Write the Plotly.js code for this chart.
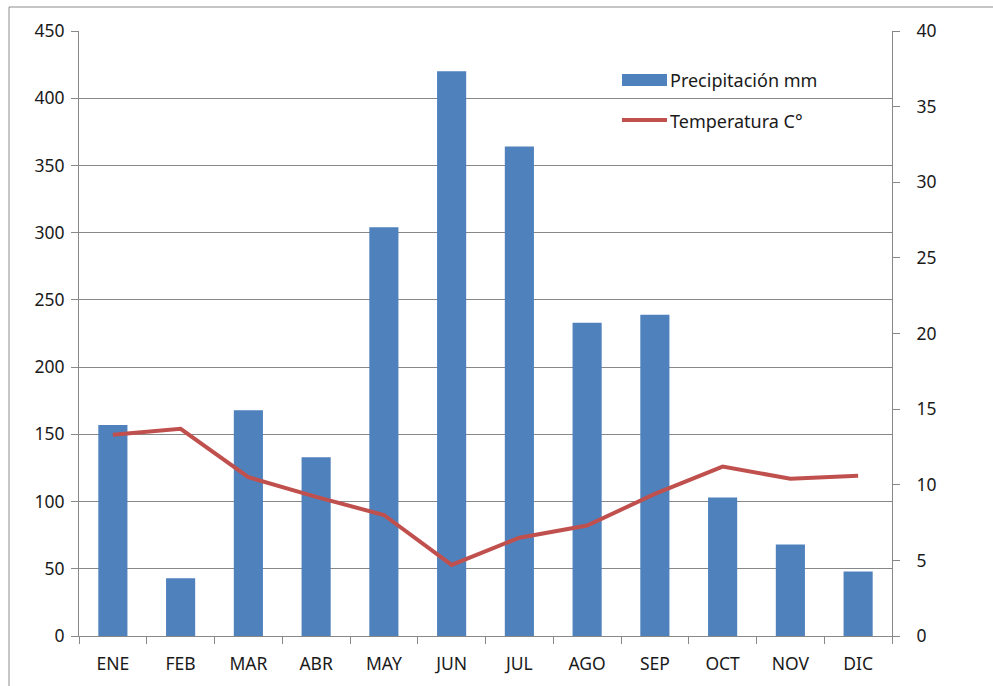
<!DOCTYPE html>
<html><head><meta charset="utf-8">
<script src="https://cdn.plot.ly/plotly-3.0.1.min.js"></script>
<style>html,body{margin:0;padding:0;background:#fff}#c{width:993px;height:686px}</style>
</head><body><div id="c"></div>
<script>
const months = ["ENE","FEB","MAR","ABR","MAY","JUN","JUL","AGO","SEP","OCT","NOV","DIC"];
const precipitacion = [157, 43, 168, 133, 304, 420, 364, 233, 239, 103, 68, 48];
const temperatura = [13.3, 13.7, 10.5, 9.2, 8.0, 4.7, 6.5, 7.3, 9.4, 11.2, 10.4, 10.6];
const seriesNames = ["Precipitación mm", "Temperatura C°"];

const barColor = '#4f81bd', lineColor = '#c0504d';
const data = [
  {type:'bar', x:months, y:precipitacion, name:seriesNames[0],
   marker:{color:barColor}, yaxis:'y', showlegend:false},
  {type:'scatter', mode:'lines', x:months, y:temperatura, name:seriesNames[1],
   line:{color:lineColor, width:4}, yaxis:'y2', showlegend:false}
];
const gridc = '#888888';
const W = 813, H = 605;
const px = v => (v-79)/W, py = v => (636-v)/H;
const layout = {
  width:993, height:686,
  margin:{l:79, r:101, t:31, b:50},
  paper_bgcolor:'#fff', plot_bgcolor:'#fff',
  font:{family:'"Noto Sans", "Open Sans", Arial, sans-serif', size:17.5, color:'#1a1a1a'},
  bargap:0.57,
  showlegend:false,
  xaxis:{showline:true, linecolor:gridc, linewidth:1, ticks:'outside', tickcolor:gridc,
         ticklen:7, tickson:'boundaries', showgrid:false, fixedrange:true, ticklabelstandoff:12},
  yaxis:{range:[0,450], dtick:50, showgrid:true, gridcolor:gridc, gridwidth:1,
         showline:true, linecolor:gridc, ticks:'outside', tickcolor:gridc, ticklen:7,
         zeroline:false, ticklabelstandoff:3},
  yaxis2:{range:[0,40], dtick:5, overlaying:'y', side:'right', showgrid:false,
          showline:true, linecolor:gridc, ticks:'outside', tickcolor:gridc, ticklen:7,
          zeroline:false, ticklabelstandoff:13},
  shapes:[
    {type:'rect', xref:'paper', yref:'paper',
     x0:px(9), x1:px(1000), y0:py(700), y1:py(7),
     line:{color:'#8c8c8c', width:1}, fillcolor:'rgba(0,0,0,0)', layer:'below'},
    {type:'rect', xref:'paper', yref:'paper', x0:px(622), x1:px(667), y0:py(86), y1:py(74),
     line:{width:0}, fillcolor:barColor},
    {type:'line', xref:'paper', yref:'paper', x0:px(622), x1:px(667), y0:py(120), y1:py(120),
     line:{color:lineColor, width:4}}
  ],
  annotations:[
    {xref:'paper', yref:'paper', x:px(668), y:py(80), xanchor:'left', yanchor:'middle',
     text:seriesNames[0], showarrow:false, font:{size:18}},
    {xref:'paper', yref:'paper', x:px(668), y:py(121), xanchor:'left', yanchor:'middle',
     text:seriesNames[1], showarrow:false, font:{size:18}}
  ]
};
Plotly.newPlot('c', data, layout, {displayModeBar:false, staticPlot:true});
</script></body></html>
